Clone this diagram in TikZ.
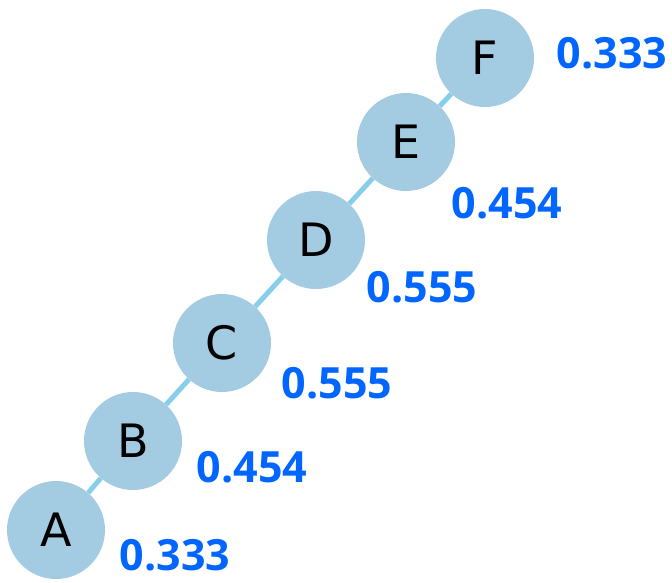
\documentclass[tikz,border=0pt]{standalone}
\usepackage{fontspec}
\setmainfont{DejaVu Sans}
\newfontfamily\labelfont{Open Sans}
\definecolor{nodefill}{HTML}{A3CCE3}
\definecolor{edgecol}{HTML}{87CEEB}
\definecolor{valcol}{HTML}{0066FF}
\tikzset{
  vert/.style={circle, fill=nodefill, minimum size=98pt, inner sep=0pt, font=\fontsize{46}{46}\selectfont},
  val/.style={text=valcol, inner sep=0pt, font=\labelfont\bfseries\fontsize{43}{43}\selectfont},
  link/.style={edgecol, line width=5pt}
}
\begin{document}
\begin{tikzpicture}[x=1pt, y=-1pt]
	\useasboundingbox (0,0) rectangle (672,582);
	\node[vert] (A) at (56,530) {A};
	\node[vert] (B) at (133,441) {B};
	\node[vert] (C) at (222,343) {C};
	\node[vert] (D) at (316,240) {D};
	\node[vert] (E) at (406,142) {E};
	\node[vert] (F) at (485,58) {F};
	\node[val] (vA) at (175,555) {0.333};
	\node[val] (vB) at (252,467) {0.454};
	\node[val] (vC) at (337,383) {0.555};
	\node[val] (vD) at (422,287) {0.555};
	\node[val] (vE) at (507,203) {0.454};
	\node[val] (vF) at (612,53) {0.333};
	\draw[link] (A) -- (B);
	\draw[link] (B) -- (C);
	\draw[link] (C) -- (D);
	\draw[link] (D) -- (E);
	\draw[link] (E) -- (F);
\end{tikzpicture}
\end{document}
